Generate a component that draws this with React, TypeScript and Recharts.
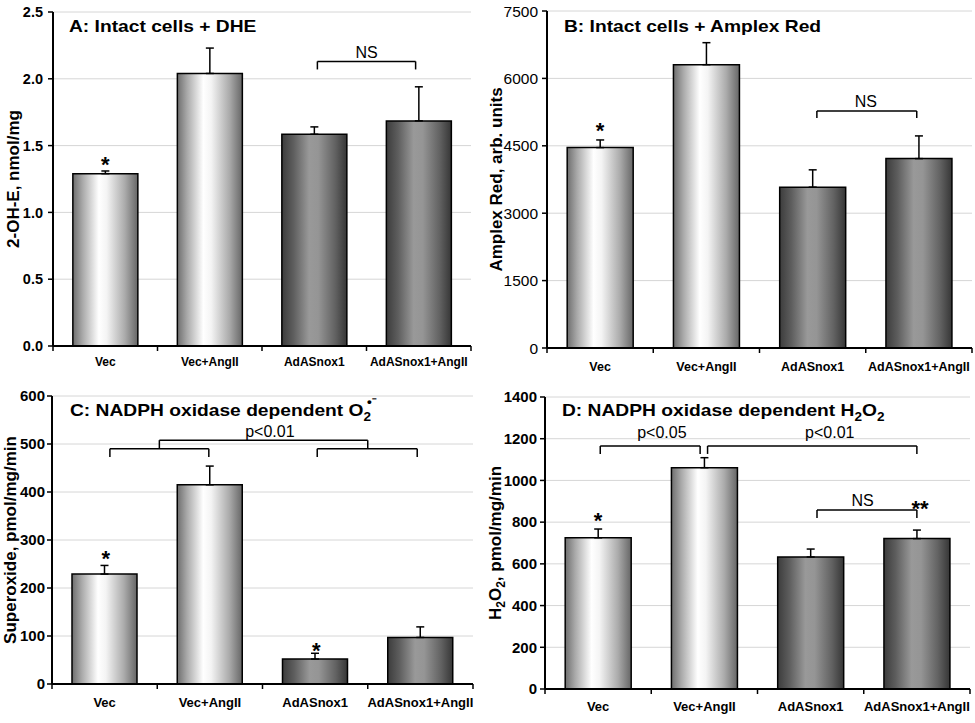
import React from "react";
import {
  BarChart,
  Bar,
  XAxis,
  YAxis,
  CartesianGrid,
  ErrorBar,
  Cell,
  ReferenceLine,
  ReferenceDot,
} from "recharts";

const FONT = '"Liberation Sans", Arial, Helvetica, sans-serif';

const GROUPS = ["Vec", "Vec+AngII", "AdASnox1", "AdASnox1+AngII"];
const SHADES = ["light", "light", "dark", "dark"];

// A: intact cells + DHE (nmol/mg)
const A_VALUES = [1.29, 2.04, 1.585, 1.685];
const A_SEM = [0.02, 0.19, 0.055, 0.255];
const A_TICKS = [0, 0.5, 1.0, 1.5, 2.0, 2.5];

// B: intact cells + Amplex Red (arb. units)
const B_VALUES = [4460, 6305, 3580, 4215];
const B_SEM = [170, 490, 385, 505];
const B_TICKS = [0, 1500, 3000, 4500, 6000, 7500];

// C: NADPH oxidase dependent superoxide (pmol/mg/min)
const C_VALUES = [229, 415, 52, 97];
const C_SEM = [18, 39, 12, 22];
const C_TICKS = [0, 100, 200, 300, 400, 500, 600];

// D: NADPH oxidase dependent H2O2 (pmol/mg/min)
const D_VALUES = [725, 1061, 633, 721];
const D_SEM = [42, 48, 38, 41];
const D_TICKS = [0, 200, 400, 600, 800, 1000, 1200, 1400];

// brackets: x on a 0..4 scale across the groups, legs drop to "leg"
type Bracket = { x1: number; x2: number; y: number; leg: number };
type Note = { x: number; y: number; text: string; bold?: boolean; size?: number };

const A_BRACKETS: Bracket[] = [{ x1: 2.53, x2: 3.47, y: 2.13, leg: 2.07 }];
const A_NOTES: Note[] = [
  { x: 0.5, y: 1.36, text: "*", bold: true },
  { x: 3.0, y: 2.2, text: "NS" },
];

const B_BRACKETS: Bracket[] = [{ x1: 2.54, x2: 3.48, y: 5275, leg: 5120 }];
const B_NOTES: Note[] = [
  { x: 0.5, y: 4840, text: "*", bold: true },
  { x: 3.0, y: 5500, text: "NS" },
];

const C_BRACKETS: Bracket[] = [
  { x1: 0.55, x2: 1.49, y: 490, leg: 473 },
  { x1: 2.52, x2: 3.47, y: 490, leg: 473 },
  { x1: 1.02, x2: 3.0, y: 508, leg: 490 },
];
const C_NOTES: Note[] = [
  { x: 0.51, y: 263, text: "*", bold: true },
  { x: 2.51, y: 70, text: "*", bold: true },
  { x: 2.07, y: 527, text: "p<0.01", size: 16 },
];

const D_BRACKETS: Bracket[] = [
  { x1: 0.52, x2: 1.46, y: 1165, leg: 1127 },
  { x1: 1.53, x2: 3.5, y: 1165, leg: 1127 },
  { x1: 2.56, x2: 3.5, y: 858, leg: 820 },
];
const D_NOTES: Note[] = [
  { x: 0.5, y: 810, text: "*", bold: true },
  { x: 3.53, y: 868, text: "**", bold: true },
  { x: 1.1, y: 1232, text: "p<0.05", size: 16 },
  { x: 2.68, y: 1232, text: "p<0.01", size: 16 },
  { x: 2.99, y: 906, text: "NS" },
];

function XTick(props: any) {
  const { x, y, payload, index, gap, bw, fs } = props;
  const top = y - gap;
  const last = index === GROUPS.length - 1;
  return (
    <g>
      <line x1={x - bw / 2} x2={x - bw / 2} y1={top} y2={top + 5} stroke="#000" strokeWidth={1.5} />
      {last && <line x1={x + bw / 2} x2={x + bw / 2} y1={top} y2={top + 5} stroke="#000" strokeWidth={1.5} />}
      <text x={x} y={y} dy="0.71em" textAnchor="middle" style={{ fontSize: fs, fontWeight: "bold", fontFamily: FONT }} fill="#000">
        {payload.value}
      </text>
    </g>
  );
}

function YTick(props: any) {
  const { x, y, payload, fs, bold, fmt } = props;
  return (
    <text
      x={x}
      y={y}
      dy="0.355em"
      textAnchor="end"
      style={{ fontSize: fs, fontWeight: bold ? "bold" : "normal", fontFamily: FONT }}
      fill="#000"
    >
      {fmt(payload.value)}
    </text>
  );
}

function YLabel(props: any) {
  const { viewBox, bx, children } = props;
  const cy = viewBox ? viewBox.y + viewBox.height / 2 : 180;
  return (
    <text
      x={bx}
      y={cy}
      transform={`rotate(-90, ${bx}, ${cy})`}
      textAnchor="middle"
      style={{ fontSize: 17, fontWeight: "bold", fontFamily: FONT }}
      fill="#000"
    >
      {children}
    </text>
  );
}

interface PanelProps {
  id: string;
  left: number;
  top: number;
  width: number;
  height: number;
  margin: { top: number; right: number; left: number; bottom: number };
  yWidth: number;
  xHeight: number;
  xMargin: number;
  yMargin: number;
  xFont: number;
  yFont: number;
  yBold: boolean;
  values: number[];
  sems: number[];
  ticks: number[];
  fmt: (v: number) => string;
  brackets: Bracket[];
  notes: Note[];
  yLabel: React.ReactNode;
  labelX: number;
}

function Panel(p: PanelProps) {
  const data = GROUPS.map((g, i) => ({
    name: g,
    pos: i + 0.5,
    value: p.values[i],
    err: [0, p.sems[i]],
  }));
  const plotW = p.width - p.margin.left - p.margin.right - p.yWidth;
  const bw = plotW / GROUPS.length;
  const max = p.ticks[p.ticks.length - 1];
  const frame = { stroke: "#000", strokeWidth: 2 };

  return (
    <div style={{ position: "absolute", left: p.left, top: p.top }}>
      <BarChart width={p.width} height={p.height} data={data} margin={p.margin} barCategoryGap="19%">
        <defs>
          <linearGradient id={`${p.id}-light`} x1="0" y1="0" x2="1" y2="0">
            <stop offset="0" stopColor="#6e6e6e" />
            <stop offset="0.15" stopColor="#a9a9a9" />
            <stop offset="0.4" stopColor="#ffffff" />
            <stop offset="0.52" stopColor="#f4f4f4" />
            <stop offset="0.8" stopColor="#ababab" />
            <stop offset="1" stopColor="#666666" />
          </linearGradient>
          <linearGradient id={`${p.id}-dark`} x1="0" y1="0" x2="1" y2="0">
            <stop offset="0" stopColor="#3c3c3c" />
            <stop offset="0.18" stopColor="#5e5e5e" />
            <stop offset="0.42" stopColor="#999999" />
            <stop offset="0.56" stopColor="#959595" />
            <stop offset="0.82" stopColor="#626262" />
            <stop offset="1" stopColor="#363636" />
          </linearGradient>
        </defs>
        <CartesianGrid vertical={false} stroke="#d6d6d6" strokeWidth={1} />
        <XAxis
          dataKey="name"
          height={p.xHeight}
          axisLine={frame}
          tickLine={false}
          tickSize={5}
          tickMargin={p.xMargin}
          interval={0}
          tick={<XTick gap={5 + p.xMargin} bw={bw} fs={p.xFont} />}
        />
        <XAxis
          xAxisId="num"
          type="number"
          dataKey="pos"
          domain={[0, 4]}
          orientation="top"
          height={0}
          tick={false}
          tickLine={false}
          axisLine={frame}
        />
        <YAxis
          width={p.yWidth}
          domain={[0, max]}
          ticks={p.ticks}
          interval={0}
          axisLine={frame}
          tickLine={{ stroke: "#000", strokeWidth: 1.5 }}
          tickSize={5}
          tickMargin={p.yMargin}
          tick={<YTick fs={p.yFont} bold={p.yBold} fmt={p.fmt} />}
          label={<YLabel bx={p.labelX}>{p.yLabel}</YLabel>}
        />
        <YAxis
          yAxisId="r"
          orientation="right"
          width={0}
          domain={[0, 1]}
          tick={false}
          tickLine={false}
          axisLine={frame}
        />
        <Bar dataKey="value" stroke="#000" strokeWidth={1.5} isAnimationActive={false}>
          {data.map((d, i) => (
            <Cell key={d.name} fill={`url(#${p.id}-${SHADES[i]})`} />
          ))}
          <ErrorBar dataKey="err" width={4} stroke="#000" strokeWidth={1.5} direction="y" />
        </Bar>
        {p.brackets.map((b, i) => (
          <ReferenceLine
            key={`h${i}`}
            xAxisId="num"
            segment={[{ x: b.x1, y: b.y }, { x: b.x2, y: b.y }]}
            stroke="#000"
            strokeWidth={1.5}
            ifOverflow="visible"
          />
        ))}
        {p.brackets.map((b, i) => (
          <ReferenceLine
            key={`l${i}`}
            xAxisId="num"
            segment={[{ x: b.x1, y: b.y }, { x: b.x1, y: b.leg }]}
            stroke="#000"
            strokeWidth={1.5}
            ifOverflow="visible"
          />
        ))}
        {p.brackets.map((b, i) => (
          <ReferenceLine
            key={`r${i}`}
            xAxisId="num"
            segment={[{ x: b.x2, y: b.y }, { x: b.x2, y: b.leg }]}
            stroke="#000"
            strokeWidth={1.5}
            ifOverflow="visible"
          />
        ))}
        {p.notes.map((n, i) => (
          <ReferenceDot
            key={`n${i}`}
            xAxisId="num"
            x={n.x}
            y={n.y}
            r={0}
            fill="none"
            stroke="none"
            ifOverflow="visible"
            label={{
              value: n.text,
              position: "center",
              fill: "#000",
              fontSize: n.size ?? (n.bold ? 22 : 16),
              fontWeight: n.bold ? "bold" : "normal",
              fontFamily: FONT,
            }}
          />
        ))}
      </BarChart>
    </div>
  );
}

const titleStyle: React.CSSProperties = {
  position: "absolute",
  fontFamily: FONT,
  fontWeight: "bold",
  fontSize: 17,
  lineHeight: "19px",
  whiteSpace: "nowrap",
  transform: "scaleX(1.13)",
  transformOrigin: "left top",
  color: "#000",
};

export default function App() {
  return (
    <div style={{ position: "absolute", left: 0, top: 0, width: 975, height: 723, background: "#fff", overflow: "hidden" }}>
      <Panel
        id="pa"
        left={0}
        top={0}
        width={485}
        height={378}
        margin={{ top: 12, right: 14, left: 0, bottom: 0 }}
        yWidth={53}
        xHeight={32}
        xMargin={6}
        yMargin={5}
        xFont={12}
        yFont={14.5}
        yBold
        values={A_VALUES}
        sems={A_SEM}
        ticks={A_TICKS}
        fmt={(v) => v.toFixed(1)}
        brackets={A_BRACKETS}
        notes={A_NOTES}
        yLabel="2-OH-E, nmol/mg"
        labelX={19}
      />
      <Panel
        id="pb"
        left={485}
        top={0}
        width={490}
        height={378}
        margin={{ top: 11, right: 3, left: 0, bottom: 0 }}
        yWidth={62}
        xHeight={30}
        xMargin={9}
        yMargin={4}
        xFont={12.5}
        yFont={15.5}
        yBold={false}
        values={B_VALUES}
        sems={B_SEM}
        ticks={B_TICKS}
        fmt={(v) => String(v)}
        brackets={B_BRACKETS}
        notes={B_NOTES}
        yLabel="Amplex Red, arb. units"
        labelX={17}
      />
      <Panel
        id="pc"
        left={0}
        top={380}
        width={475}
        height={343}
        margin={{ top: 16, right: 2, left: 0, bottom: 0 }}
        yWidth={52}
        xHeight={39}
        xMargin={9}
        yMargin={2}
        xFont={13}
        yFont={15}
        yBold
        values={C_VALUES}
        sems={C_SEM}
        ticks={C_TICKS}
        fmt={(v) => String(v)}
        brackets={C_BRACKETS}
        notes={C_NOTES}
        yLabel="Superoxide, pmol/mg/min"
        labelX={16}
      />
      <Panel
        id="pd"
        left={485}
        top={380}
        width={490}
        height={343}
        margin={{ top: 17, right: 5, left: 0, bottom: 0 }}
        yWidth={60}
        xHeight={34}
        xMargin={8}
        yMargin={3}
        xFont={13}
        yFont={15}
        yBold
        values={D_VALUES}
        sems={D_SEM}
        ticks={D_TICKS}
        fmt={(v) => String(v)}
        brackets={D_BRACKETS}
        notes={D_NOTES}
        yLabel={
          <>
            H<tspan dy={4} fontSize={12}>2</tspan>
            <tspan dy={-4}>O</tspan>
            <tspan dy={4} fontSize={12}>2</tspan>
            <tspan dy={-4}>, pmol/mg/min</tspan>
          </>
        }
        labelX={15.5}
      />
      <div style={{ ...titleStyle, left: 69, top: 17 }}>A: Intact cells + DHE</div>
      <div style={{ ...titleStyle, left: 564, top: 17 }}>B: Intact cells + Amplex Red</div>
      <div style={{ ...titleStyle, left: 70, top: 401 }}>
        C: NADPH oxidase dependent O
        <span style={{ position: "relative", display: "inline-block" }}>
          <span style={{ fontSize: 12, position: "relative", top: 5 }}>2</span>
          <span style={{ fontSize: 12, position: "absolute", left: 3, top: -8 }}>•⁻</span>
        </span>
      </div>
      <div style={{ ...titleStyle, left: 562, top: 401 }}>
        D: NADPH oxidase dependent H<span style={{ fontSize: 12, position: "relative", top: 5 }}>2</span>O
        <span style={{ fontSize: 12, position: "relative", top: 5 }}>2</span>
      </div>
    </div>
  );
}
